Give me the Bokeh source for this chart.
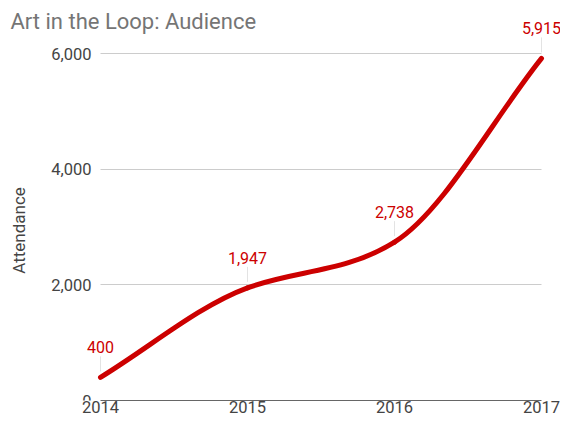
import math
from bokeh.plotting import figure
from bokeh.models import Range1d, FixedTicker, Label, NumeralTickFormatter
from bokeh.embed import file_html
from bokeh.resources import INLINE

years = [2014, 2015, 2016, 2017]
attendance = [400, 1947, 2738, 5915]
labels = ["400", "1,947", "2,738", "5,915"]
y_ticks = [0, 2000, 4000, 6000]
title_text = "Art in the Loop:  Audience"
y_title = "Attendance"

RED = "#cc0000"
FONT = "Roboto"

# ---- layout (pixels, measured from the frame's top-left corner) ----
W, H = 560, 420
BOTTOM = 20                        # panel for the year labels
frame_h = H - BOTTOM
x_first_px, x_last_px = 100, 541   # where the first / last year sit
y_top_px = 53                      # where the top tick sits

px_per_x = (x_last_px - x_first_px) / (years[-1] - years[0])
x_start = years[0] - x_first_px / px_per_x
x_end = years[-1] + (W - x_last_px) / px_per_x
y_end = y_ticks[-1] * frame_h / (frame_h - y_top_px)
units_per_px = y_end / frame_h

p = figure(width=W, height=H, output_backend="svg", toolbar_location=None,
           x_range=Range1d(x_start, x_end), y_range=Range1d(0, y_end),
           min_border_left=0, min_border_right=0, min_border_top=0, min_border_bottom=BOTTOM)
p.outline_line_color = None
p.background_fill_color = "white"
p.border_fill_color = "white"

# axes
p.xaxis.ticker = FixedTicker(ticks=years)
p.yaxis.ticker = FixedTicker(ticks=y_ticks)
p.yaxis.formatter = NumeralTickFormatter(format="0,0")
for ax in (p.xaxis[0], p.yaxis[0]):
    ax.major_tick_line_color = None
    ax.minor_tick_line_color = None
    ax.major_tick_out = 0
    ax.major_tick_in = 0
    ax.minor_tick_out = 0
    ax.minor_tick_in = 0
    ax.major_label_text_font = FONT
    ax.major_label_text_font_size = "16.5px"
    ax.major_label_text_color = "#444444"
p.yaxis.fixed_location = years[0]
p.yaxis.axis_line_color = None
p.yaxis.major_label_standoff = 9
p.xaxis.bounds = (years[0], years[-1])
p.xaxis.axis_line_color = "#666666"
p.xaxis.axis_line_width = 1
p.xaxis.major_label_standoff = 0

p.xgrid.grid_line_color = None
p.ygrid.grid_line_color = "#cccccc"
p.ygrid.grid_line_width = 1
p.ygrid.cross_bounds = (years[0], years[-1])

# title and y-axis title
p.add_layout(Label(x=10, y=frame_h - 21, x_units="screen", y_units="screen", text=title_text,
                   text_font=FONT, text_font_size="22px", text_color="#757575",
                   text_baseline="alphabetic", text_align="left"))
p.add_layout(Label(x=18, y=frame_h - 230, x_units="screen", y_units="screen", text=y_title,
                   angle=math.pi / 2, text_font=FONT, text_font_size="17px", text_color="#444444",
                   text_baseline="middle", text_align="center"))

# smooth curve via cubic bezier segments (control points from data tangents)
n = len(years)
k = 0.4
tangents = []
for i in range(n):
    if i == 0:
        m = (attendance[1] - attendance[0]) / (years[1] - years[0])
    elif i == n - 1:
        m = (attendance[-1] - attendance[-2]) / (years[-1] - years[-2])
    else:
        m = k * (attendance[i + 1] - attendance[i - 1]) / ((years[i + 1] - years[i - 1]) / 2)
    tangents.append(m)

bx0, by0, bx1, by1, cx0, cy0, cx1, cy1 = [], [], [], [], [], [], [], []
for i in range(n - 1):
    h = years[i + 1] - years[i]
    bx0.append(years[i]); by0.append(attendance[i])
    bx1.append(years[i + 1]); by1.append(attendance[i + 1])
    cx0.append(years[i] + h / 3); cy0.append(attendance[i] + tangents[i] * h / 3)
    cx1.append(years[i + 1] - h / 3); cy1.append(attendance[i + 1] - tangents[i + 1] * h / 3)

# annotation stems
p.segment(x0=years, y0=[v + 6 * units_per_px for v in attendance],
          x1=years, y1=[v + 21 * units_per_px for v in attendance],
          line_color="#e3e3e3", line_width=1)

p.bezier(x0=bx0, y0=by0, x1=bx1, y1=by1, cx0=cx0, cy0=cy0, cx1=cx1, cy1=cy1,
         line_color=RED, line_width=5, line_cap="round")

for xv, yv, t in zip(years, attendance, labels):
    p.add_layout(Label(x=xv, y=yv, text=t, y_offset=30, text_align="center",
                       text_baseline="middle", text_font=FONT, text_font_size="16px",
                       text_color=RED))

open("out.html", "w").write(file_html(p, INLINE))
